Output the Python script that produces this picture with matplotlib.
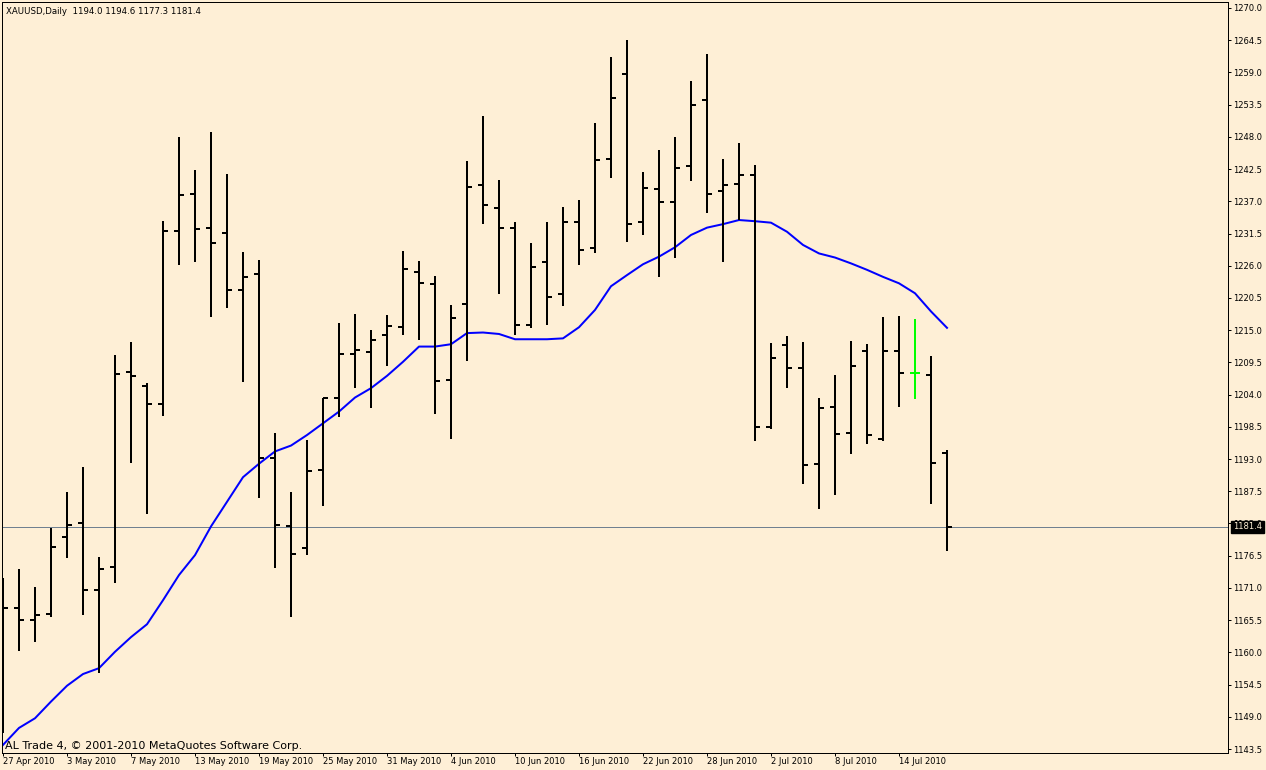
import numpy as np
import matplotlib
matplotlib.use("Agg")
import matplotlib.pyplot as plt
from matplotlib.transforms import blended_transform_factory
from matplotlib.ticker import FormatStrFormatter

# ---------------- data ----------------
symbol = "XAUUSD,Daily"
date_labels = ["27 Apr 2010", "3 May 2010", "7 May 2010", "13 May 2010", "19 May 2010",
               "25 May 2010", "31 May 2010", "4 Jun 2010", "10 Jun 2010", "16 Jun 2010",
               "22 Jun 2010", "28 Jun 2010", "2 Jul 2010", "8 Jul 2010", "14 Jul 2010"]

opens = [1168.1, 1167.6, 1165.5, 1166.5, 1179.7, 1182.0, 1170.7, 1174.6, 1207.8, 1205.5,
         1202.4, 1231.9, 1238.3, 1232.4, 1231.6, 1221.9, 1224.6, 1193.1, 1181.6, 1177.9,
         1191.1, 1203.5, 1210.9, 1211.3, 1214.2, 1215.5, 1225.0, 1222.9, 1206.5, 1219.4,
         1239.7, 1235.9, 1232.5, 1215.9, 1226.7, 1221.1, 1233.5, 1229.1, 1244.2, 1258.8,
         1233.5, 1239.1, 1236.9, 1243.1, 1254.3, 1238.8, 1240.0, 1241.5, 1198.5, 1212.4,
         1208.6, 1192.2, 1201.9, 1197.5, 1211.5, 1196.4, 1211.5, 1207.7, 1207.4, 1194.0]
highs = [1172.7, 1174.2, 1171.1, 1181.3, 1187.3, 1191.6, 1176.2, 1210.8, 1213.0, 1206.0,
         1233.6, 1247.9, 1242.3, 1248.8, 1241.7, 1228.3, 1227.0, 1197.4, 1187.3, 1196.3,
         1203.5, 1216.2, 1217.7, 1215.0, 1217.6, 1228.5, 1226.8, 1224.3, 1219.3, 1243.8,
         1251.6, 1240.6, 1233.5, 1229.8, 1233.5, 1236.0, 1237.2, 1250.4, 1261.6, 1264.5,
         1242.0, 1245.8, 1248.0, 1257.5, 1262.2, 1244.3, 1246.9, 1243.2, 1212.8, 1214.0,
         1213.0, 1203.4, 1207.3, 1213.2, 1212.6, 1217.3, 1217.4, 1216.9, 1210.6, 1194.6]
lows = [1146.2, 1160.3, 1161.8, 1166.1, 1176.1, 1166.3, 1156.4, 1171.9, 1192.4, 1183.6,
        1200.4, 1226.1, 1226.7, 1217.3, 1218.7, 1206.2, 1186.4, 1174.4, 1166.0, 1176.7,
        1184.9, 1200.2, 1205.1, 1201.7, 1208.9, 1214.1, 1213.3, 1200.7, 1196.4, 1209.8,
        1233.1, 1221.1, 1214.1, 1215.4, 1215.8, 1219.2, 1226.1, 1228.2, 1241.0, 1230.1,
        1231.3, 1224.0, 1227.4, 1240.4, 1235.0, 1226.6, 1233.8, 1196.0, 1198.1, 1205.2,
        1188.8, 1184.4, 1186.8, 1193.8, 1195.6, 1196.0, 1201.9, 1203.2, 1185.3, 1177.3]
closes = [1167.6, 1165.5, 1166.4, 1178.0, 1181.8, 1170.7, 1174.3, 1207.6, 1207.2, 1202.4,
          1231.9, 1238.1, 1232.3, 1229.9, 1221.9, 1224.1, 1193.1, 1181.8, 1176.8, 1191.0,
          1203.5, 1210.9, 1211.6, 1213.3, 1215.7, 1225.4, 1223.1, 1206.4, 1217.1, 1239.4,
          1236.4, 1232.5, 1215.8, 1225.8, 1220.7, 1233.4, 1228.6, 1244.1, 1254.6, 1233.1,
          1239.3, 1236.8, 1242.7, 1253.5, 1238.3, 1239.7, 1241.5, 1198.4, 1210.3, 1208.6,
          1192.0, 1201.7, 1197.3, 1208.9, 1197.1, 1211.5, 1207.7, 1207.7, 1192.4, 1181.4]
ma_values = [1144.2, 1147.1, 1148.75, 1151.6, 1154.3, 1156.3, 1157.3, 1160.1, 1162.6, 1164.8,
             1168.9, 1173.2, 1176.6, 1181.5, 1185.7, 1189.9, 1192.2, 1194.3, 1195.3, 1197.1,
             1199.1, 1201.1, 1203.5, 1205.1, 1207.2, 1209.6, 1212.2, 1212.2, 1212.6, 1214.5,
             1214.6, 1214.35, 1213.45, 1213.45, 1213.45, 1213.6, 1215.5, 1218.45, 1222.5, 1224.4,
             1226.25, 1227.55, 1229.15, 1231.25, 1232.5, 1233.1, 1233.8, 1233.6, 1233.35, 1231.8,
             1229.55, 1228.1, 1227.4, 1226.4, 1225.3, 1224.1, 1223.0, 1221.3, 1218.2, 1215.4]
price_ticks = [1143.5 + 5.5 * k for k in range(24)]

# ---------------- style ----------------
bg = "#FEEFD6"
W, H = 1266, 770
fig = plt.figure(figsize=(W / 100, H / 100), dpi=100, facecolor=bg)
ax = fig.add_axes([2 / W, 17 / H, 1226 / W, 751 / H], facecolor=bg)

idx = np.arange(len(closes))
o = np.array(opens); h = np.array(highs); l = np.array(lows); c = np.array(closes)
colors = ["#00FF00" if oo == cc else "black" for oo, cc in zip(o, c)]

lw = 1.44
ax.axhline(closes[-1], color="#708090", lw=0.72, zorder=1, antialiased=False)
ax.plot(idx, ma_values, color="#0000FF", lw=lw, zorder=2)
ax.vlines(idx, l, h, colors=colors, lw=lw, zorder=3)
ax.hlines(o, idx - 0.31, idx, colors=colors, lw=lw, zorder=3)
ax.hlines(c, idx, idx + 0.31, colors=colors, lw=lw, zorder=3)

ax.set_xlim(-0.0625, 76.5625)
ax.set_ylim(1142.82, 1271.02)

for sp in ax.spines.values():
    sp.set_linewidth(0.72)
    sp.set_color("black")

ax.yaxis.tick_right()
ax.set_yticks(price_ticks)
ax.yaxis.set_major_formatter(FormatStrFormatter("%.1f"))
ax.tick_params(axis="y", direction="out", length=2.2, width=0.72, pad=1.5,
               labelsize=6, colors="black")

ax.set_xticks(np.arange(0, 4 * len(date_labels), 4))
ax.set_xticklabels(date_labels)
ax.tick_params(axis="x", direction="out", length=2.2, width=0.72, pad=1.0,
               labelsize=6, colors="black")
for t in ax.get_xticklabels():
    t.set_ha("left")

# current price box
tr = blended_transform_factory(ax.transAxes, ax.transData)
ax.text((1233 - 2) / 1226, closes[-1], f"{closes[-1]:.1f}", transform=tr,
        ha="left", va="center", fontsize=6, color=bg, clip_on=False, zorder=6,
        bbox=dict(boxstyle="square,pad=0.2", fc="black", ec="black"))

# header & footer
fig.text(6 / W, 1 - 11 / H,
         f"{symbol}  {opens[-1]:.1f} {highs[-1]:.1f} {lows[-1]:.1f} {closes[-1]:.1f}",
         fontsize=6.2, va="center", ha="left", color="black")
fig.text(5 / W, 1 - 746 / H, "AL Trade 4, \u00a9 2001-2010 MetaQuotes Software Corp.",
         fontsize=8, va="center", ha="left", color="black")

fig.savefig("out.png", dpi=100, facecolor=bg)
